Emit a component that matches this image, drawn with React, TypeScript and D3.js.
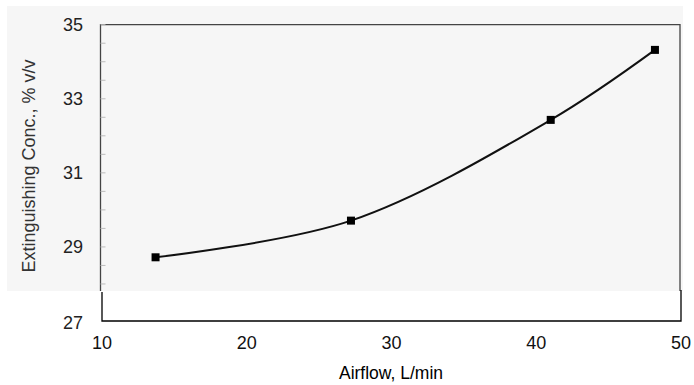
import { useRef, useEffect } from 'react';
import * as d3 from 'd3';

const airflow = [13.7, 27.2, 41.0, 48.2];
const concentration = [28.72, 29.71, 32.43, 34.32];
const xTicks = [10, 20, 30, 40, 50];
const yTickLabels = [27, 29, 31, 33, 35];
const yMinorTicks = d3.range(27, 35.01, 0.5);

export default function App() {
  const svgRef = useRef<SVGSVGElement>(null);

  useEffect(() => {
    if (!svgRef.current) return;
    const svg = d3.select(svgRef.current);
    svg.selectAll('*').remove();

    const width = 694;
    const height = 385;
    const font = 'Arial, "Liberation Sans", sans-serif';

    const x = d3.scaleLinear().domain([10, 50]).range([102, 681]);
    const y = d3.scaleLinear().domain([27, 35]).range([321, 24.7]);

    svg.attr('width', width).attr('height', height);
    svg.append('rect').attr('width', width).attr('height', height).attr('fill', '#fff');

    // scanned part: light grey panel
    const panelBottom = 291;
    svg.append('rect')
      .attr('x', 7).attr('y', 6)
      .attr('width', 676).attr('height', panelBottom - 6)
      .attr('fill', '#f6f6f6');

    // frame inside the panel (top, left, right)
    const fl = x(10) - 1.5;
    const fr = x(50) - 1;
    const ft = y(35);
    svg.append('path')
      .attr('d', `M${fl},${panelBottom} V${ft} H${fr} V${panelBottom}`)
      .attr('fill', 'none')
      .attr('stroke', '#444')
      .attr('stroke-width', 1.3);

    // minor ticks on the left edge
    svg.append('g')
      .selectAll('line')
      .data(yMinorTicks.filter((v) => y(v) < panelBottom))
      .join('line')
      .attr('x1', fl).attr('x2', fl + 5)
      .attr('y1', (d) => y(d)).attr('y2', (d) => y(d))
      .attr('stroke', '#bbb');

    // redrawn lower part of the frame
    svg.append('path')
      .attr('d', `M${x(10)},${panelBottom + 1} V${y(27)} H${x(50)} V${panelBottom - 1}`)
      .attr('fill', 'none')
      .attr('stroke', '#000')
      .attr('stroke-width', 1.3);

    // y tick labels
    svg.append('g')
      .selectAll('text')
      .data(yTickLabels)
      .join('text')
      .attr('x', x(10) - 19)
      .attr('y', (d) => y(d) + (d === 27 ? 1.5 : 0))
      .attr('dy', '0.35em')
      .attr('text-anchor', 'end')
      .attr('fill', '#222')
      .style('font-family', font)
      .style('font-size', '18px')
      .text((d) => d);

    // x tick labels
    svg.append('g')
      .selectAll('text')
      .data(xTicks)
      .join('text')
      .attr('x', (d) => x(d))
      .attr('y', 343)
      .attr('dy', '0.35em')
      .attr('text-anchor', 'middle')
      .attr('fill', '#111')
      .style('font-family', font)
      .style('font-size', '18px')
      .text((d) => d);

    // axis titles
    svg.append('text')
      .attr('x', 391).attr('y', 379)
      .attr('text-anchor', 'middle')
      .attr('fill', '#000')
      .style('font-family', font)
      .style('font-size', '17.5px')
      .text('Airflow, L/min');

    svg.append('text')
      .attr('transform', 'translate(35,166) rotate(-90)')
      .attr('text-anchor', 'middle')
      .attr('fill', '#333')
      .style('font-family', font)
      .style('font-size', '18px')
      .text('Extinguishing Conc., % v/v');

    // curve and markers
    const pts = airflow.map((a, i) => [a, concentration[i]] as [number, number]);
    const line = d3.line<[number, number]>()
      .x((d) => x(d[0]))
      .y((d) => y(d[1]))
      .curve(d3.curveCatmullRom.alpha(0.5));

    svg.append('path')
      .datum(pts)
      .attr('d', line)
      .attr('fill', 'none')
      .attr('stroke', '#111')
      .attr('stroke-width', 2);

    svg.append('g')
      .selectAll('rect')
      .data(pts)
      .join('rect')
      .attr('x', (d) => x(d[0]) - 4)
      .attr('y', (d) => y(d[1]) - 4)
      .attr('width', 8)
      .attr('height', 8)
      .attr('fill', '#000');
  }, []);

  return (
    <svg
      ref={svgRef}
      style={{ position: 'absolute', left: 0, top: 0, display: 'block' }}
    />
  );
}
